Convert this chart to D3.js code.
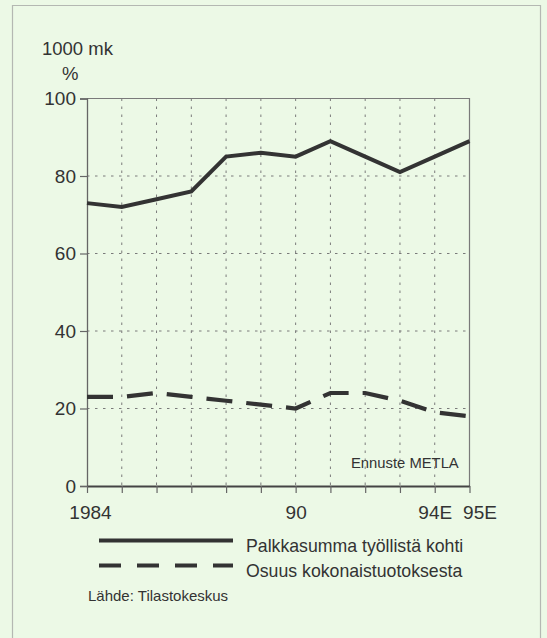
<!DOCTYPE html>
<html><head><meta charset="utf-8">
<script src="https://cdn.jsdelivr.net/npm/d3@7"></script>
<style>body{margin:0;padding:0;background:#ecf9e6;}svg{display:block;}</style>
</head><body>
<script>
const years = [1984,1985,1986,1987,1988,1989,1990,1991,1992,1993,1994,1995];
const palkkasumma = [73,72,74,76,85,86,85,89,85,81,85,89];
const osuus = [23,23,24,23,22,21,20,24,24,22,19,18];
const yTicks = [0,20,40,60,80,100];
const xLabels = {1984:"1984",1990:"90",1994:"94E",1995:"95E"};
const seriesNames = ["Palkkasumma työllistä kohti","Osuus kokonaistuotoksesta"];

const W=547,H=638;
const font="'Liberation Sans', Arial, sans-serif";
const ink="#333";
const svg=d3.select("body").append("svg").attr("width",W).attr("height",H);
svg.append("rect").attr("width",W).attr("height",H).attr("fill","#ecf9e6");
svg.append("path").attr("d",`M12.5,${H+2}V5.5H540.5V${H+2}`).attr("fill","none").attr("stroke","#b4b8b2").attr("stroke-width",1.2);

const x=d3.scaleLinear().domain([1984,1995]).range([87,469.5]);
const y=d3.scaleLinear().domain([0,100]).range([486,98.5]);

// grid
const g=svg.append("g");
g.selectAll(".vg").data(years.slice(1,-1)).join("line")
 .attr("x1",d=>x(d)).attr("x2",d=>x(d)).attr("y1",y(100)).attr("y2",y(0))
 .attr("stroke","#7a7a7a").attr("stroke-width",1).attr("stroke-dasharray","2.5,5.5");
g.selectAll(".hg").data(yTicks.slice(1,-1)).join("line")
 .attr("x1",x(1984)).attr("x2",x(1995)).attr("y1",d=>y(d)).attr("y2",d=>y(d))
 .attr("stroke","#7a7a7a").attr("stroke-width",1).attr("stroke-dasharray","2.5,5.5");
// frame top/right
svg.append("path").attr("d",`M${x(1984)},${y(100)}H${x(1995)}V${y(0)}`)
 .attr("fill","none").attr("stroke","#7a7a7a").attr("stroke-width",1.2);

// y axis
const ya=svg.append("g").attr("transform",`translate(${x(1984)},0)`)
 .call(d3.axisLeft(y).tickValues(yTicks).tickSize(7).tickPadding(4).tickFormat(d3.format("d")));
ya.select(".domain").attr("stroke","#666").attr("stroke-width",1.3);
ya.selectAll(".tick line").attr("stroke","#666").attr("stroke-width",1.2);
ya.selectAll("text").attr("font-family",font).attr("font-size",19).attr("fill",ink);

// x axis
const xa=svg.append("g").attr("transform",`translate(0,${y(0)})`)
 .call(d3.axisBottom(x).tickValues(years).tickSize(7).tickPadding(13).tickSizeOuter(0).tickFormat(d=>xLabels[d]||""));
xa.select(".domain").attr("stroke","#444").attr("stroke-width",1.8);
xa.selectAll(".tick line").attr("stroke","#666").attr("stroke-width",1.2);
xa.selectAll("text").attr("font-family",font).attr("font-size",19).attr("fill",ink)
 .attr("dx",d=>d===1984?3:(d===1995?10:0));

// unit labels
svg.append("text").attr("x",42).attr("y",55).text("1000 mk").attr("font-family",font).attr("font-size",18.5).attr("fill",ink);
svg.append("text").attr("x",62).attr("y",80).text("%").attr("font-family",font).attr("font-size",18.5).attr("fill",ink);

// lines
const line=d3.line().x((d,i)=>x(years[i])).y(d=>y(d));
svg.append("path").datum(palkkasumma).attr("d",line).attr("fill","none")
 .attr("stroke",ink).attr("stroke-width",4).attr("stroke-linejoin","miter");
svg.append("path").datum(osuus).attr("d",line).attr("fill","none")
 .attr("stroke",ink).attr("stroke-width",4.2).attr("stroke-dasharray","26,14");

svg.append("text").attr("x",351).attr("y",468).text("Ennuste METLA").attr("font-family",font).attr("font-size",14.8).attr("fill",ink);

// legend
const leg=svg.append("g");
const ly=[540.5,565.5];
leg.selectAll("line").data(seriesNames).join("line")
 .attr("x1",99).attr("x2",233).attr("y1",(d,i)=>ly[i]).attr("y2",(d,i)=>ly[i])
 .attr("stroke",ink).attr("stroke-width",4).attr("stroke-dasharray",(d,i)=>i?"22,16":null);
leg.selectAll("text").data(seriesNames).join("text")
 .attr("x",246).attr("y",(d,i)=>ly[i]+11).text(d=>d)
 .attr("font-family",font).attr("font-size",17.7).attr("fill",ink);

svg.append("text").attr("x",88).attr("y",601).text("Lähde: Tilastokeskus").attr("font-family",font).attr("font-size",15).attr("fill",ink);
</script>
</body></html>
